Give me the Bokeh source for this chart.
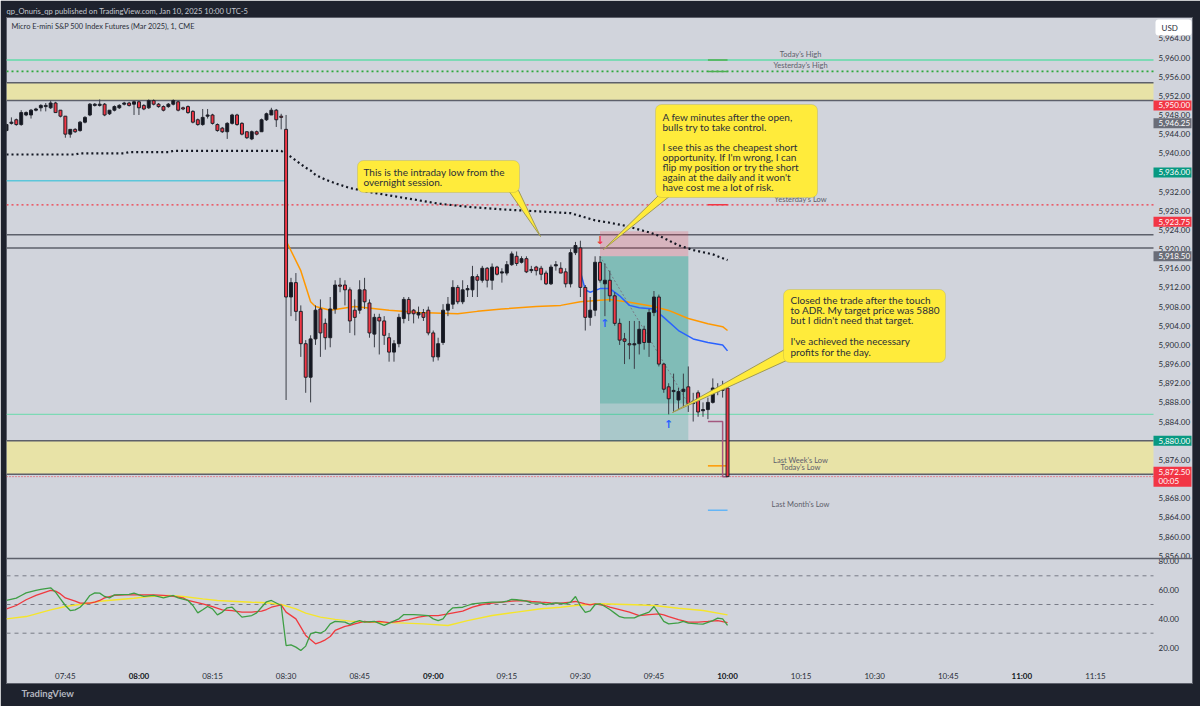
from bokeh.plotting import figure
from bokeh.models import Range1d, BoxAnnotation, Title, Span
from bokeh.core.properties import value
from bokeh.embed import file_html
from bokeh.resources import INLINE

# ------------------------------------------------------------------ data
# Micro E-mini S&P 500 (Mar 2025), 1-minute bars, Jan 10 2025, first bar 07:33
FIRST_BAR = "07:33"

opens = [5944.75, 5946.25, 5947.0, 5946.0, 5948.0, 5948.0, 5949.0, 5949.5, 5949.75, 5949.5,
         5950.5, 5949.0, 5947.75, 5944.0, 5945.0, 5944.75, 5946.5, 5948.0, 5950.0, 5950.0,
         5950.25, 5948.25, 5949.0, 5949.5, 5950.25, 5950.5, 5950.25, 5950.75, 5950.0, 5949.5,
         5951.0, 5950.25, 5949.75, 5949.75, 5950.25, 5950.75, 5949.5, 5949.75, 5948.75, 5947.0,
         5946.0, 5947.75, 5948.0, 5946.0, 5945.25, 5944.5, 5946.25, 5948.0, 5946.25, 5944.5,
         5943.0, 5944.5, 5944.5, 5947.0, 5948.0, 5949.0, 5947.75, 5945.0, 5910.0, 5913.0,
         5907.0, 5900.25, 5893.25, 5901.25, 5907.5, 5904.5, 5901.5, 5907.5, 5912.5, 5912.5,
         5911.5, 5907.25, 5907.25, 5911.5, 5908.75, 5902.25, 5905.75, 5905.0, 5901.5, 5898.5,
         5900.25, 5905.5, 5909.5, 5907.25, 5906.25, 5906.75, 5907.25, 5902.5, 5897.5, 5900.5,
         5907.25, 5908.5, 5912.0, 5909.0, 5911.5, 5911.5, 5914.25, 5913.5, 5916.0, 5913.5,
         5916.25, 5915.0, 5915.0, 5916.75, 5918.5, 5917.25, 5918.0, 5915.5, 5916.25, 5916.0,
         5915.0, 5912.75, 5916.5, 5916.0, 5915.25, 5912.75, 5919.25, 5920.25, 5912.0, 5905.75,
         5907.25, 5917.25, 5912.75, 5913.5, 5910.25, 5904.5, 5901.25, 5900.25, 5900.0, 5900.25,
         5903.25, 5900.5, 5906.75, 5910.0, 5896.0, 5891.25, 5890.25, 5888.5, 5890.25, 5891.25,
         5887.75, 5890.0, 5886.25, 5886.5, 5888.0, 5891.0, 5890.5, 5891.0]
highs = [5946.25, 5947.5, 5947.25, 5949.0, 5948.75, 5949.25, 5949.5, 5950.25, 5950.5, 5951.0,
         5950.75, 5949.0, 5947.75, 5945.0, 5945.25, 5946.75, 5947.75, 5950.5, 5950.5, 5951.25,
         5950.5, 5949.0, 5950.0, 5950.25, 5950.75, 5950.75, 5951.0, 5951.0, 5950.25, 5951.25,
         5951.25, 5950.5, 5950.0, 5950.5, 5951.25, 5951.0, 5949.75, 5950.0, 5949.0, 5947.25,
         5949.25, 5949.25, 5948.25, 5946.25, 5945.5, 5946.5, 5948.25, 5948.25, 5946.5, 5944.5,
         5944.75, 5944.75, 5947.25, 5948.5, 5949.5, 5949.25, 5948.25, 5948.0, 5914.0, 5915.0,
         5908.25, 5901.0, 5902.0, 5908.25, 5909.5, 5905.5, 5910.0, 5913.5, 5914.0, 5913.5,
         5912.0, 5909.5, 5913.5, 5914.0, 5909.5, 5906.5, 5906.5, 5906.0, 5902.5, 5901.0,
         5906.5, 5910.0, 5910.0, 5907.5, 5908.0, 5907.5, 5908.0, 5903.0, 5901.5, 5908.5,
         5910.0, 5913.5, 5912.5, 5913.5, 5912.5, 5916.5, 5914.75, 5916.5, 5916.25, 5917.0,
         5916.5, 5916.0, 5917.5, 5919.5, 5919.5, 5918.5, 5918.5, 5916.5, 5916.5, 5916.5,
         5915.5, 5916.75, 5917.5, 5917.25, 5916.0, 5920.0, 5921.5, 5921.75, 5912.5, 5910.0,
         5918.5, 5918.5, 5917.0, 5915.5, 5911.0, 5905.5, 5902.5, 5905.0, 5905.0, 5905.0,
         5904.0, 5907.5, 5911.25, 5910.5, 5896.25, 5892.0, 5894.0, 5891.0, 5894.0, 5895.5,
         5890.0, 5890.5, 5888.0, 5889.0, 5893.0, 5892.0, 5892.5, 5891.25]
lows = [5944.5, 5946.0, 5945.75, 5945.75, 5947.75, 5947.25, 5948.75, 5948.75, 5948.75, 5949.25,
        5948.5, 5947.5, 5943.25, 5943.25, 5944.25, 5944.5, 5946.25, 5947.75, 5949.75, 5949.75,
        5947.75, 5948.0, 5948.75, 5949.25, 5950.0, 5949.75, 5948.0, 5948.0, 5949.0, 5949.25,
        5950.0, 5949.5, 5948.75, 5949.5, 5950.0, 5948.75, 5949.0, 5948.25, 5946.25, 5945.75,
        5945.75, 5947.25, 5946.0, 5944.5, 5944.25, 5943.0, 5946.0, 5945.75, 5943.75, 5943.0,
        5942.75, 5943.75, 5944.5, 5946.75, 5948.0, 5945.5, 5945.0, 5888.5, 5906.0, 5905.0,
        5897.5, 5890.0, 5888.0, 5900.0, 5897.5, 5899.0, 5899.5, 5906.5, 5911.0, 5908.25,
        5902.5, 5902.0, 5906.5, 5907.5, 5901.5, 5899.5, 5898.0, 5900.0, 5896.5, 5896.5,
        5899.5, 5904.5, 5905.0, 5904.5, 5905.5, 5905.0, 5902.0, 5896.5, 5896.75, 5900.0,
        5906.0, 5907.5, 5908.5, 5908.5, 5910.0, 5910.0, 5910.0, 5913.0, 5912.0, 5911.5,
        5914.5, 5913.0, 5914.5, 5916.5, 5916.5, 5917.0, 5915.0, 5915.0, 5914.5, 5913.5,
        5912.5, 5912.5, 5915.5, 5915.0, 5912.0, 5912.0, 5918.75, 5910.0, 5903.0, 5904.0,
        5906.0, 5913.0, 5906.0, 5909.0, 5904.0, 5900.0, 5896.0, 5897.0, 5895.0, 5898.0,
        5899.0, 5897.5, 5906.0, 5895.5, 5890.0, 5885.5, 5886.0, 5886.5, 5887.0, 5886.0,
        5884.0, 5885.0, 5885.0, 5884.5, 5887.75, 5889.5, 5889.0, 5872.5]
closes = [5946.0, 5946.5, 5946.0, 5948.5, 5948.5, 5949.0, 5949.25, 5950.0, 5950.0, 5950.5,
          5948.5, 5947.75, 5944.0, 5945.0, 5944.5, 5946.5, 5947.5, 5950.25, 5950.25, 5950.25,
          5948.0, 5949.0, 5949.75, 5950.0, 5950.5, 5950.0, 5950.75, 5949.5, 5949.25, 5951.0,
          5950.25, 5949.75, 5949.0, 5950.25, 5951.0, 5949.0, 5949.25, 5948.5, 5946.5, 5946.0,
          5947.5, 5948.0, 5946.25, 5944.75, 5944.5, 5946.25, 5948.0, 5946.0, 5944.0, 5943.25,
          5944.5, 5944.0, 5947.0, 5948.25, 5949.0, 5947.0, 5947.5, 5910.0, 5913.0, 5907.0,
          5900.25, 5893.25, 5901.25, 5907.25, 5902.5, 5901.5, 5907.5, 5912.5, 5912.25, 5911.5,
          5905.0, 5905.75, 5911.5, 5909.0, 5902.5, 5905.75, 5905.0, 5902.0, 5898.5, 5900.25,
          5905.75, 5909.5, 5906.5, 5906.5, 5906.75, 5905.75, 5902.5, 5897.5, 5900.25, 5907.25,
          5908.5, 5912.0, 5909.0, 5911.5, 5911.75, 5914.25, 5913.5, 5916.0, 5913.5, 5916.25,
          5914.75, 5915.25, 5916.75, 5919.0, 5917.0, 5918.0, 5915.25, 5915.75, 5915.5, 5914.75,
          5912.75, 5916.25, 5916.75, 5915.0, 5912.75, 5919.25, 5920.75, 5912.0, 5905.75, 5907.25,
          5917.25, 5913.5, 5913.5, 5910.25, 5904.5, 5901.0, 5900.75, 5900.0, 5900.25, 5903.25,
          5900.5, 5906.75, 5910.0, 5896.0, 5890.75, 5888.75, 5890.5, 5890.25, 5890.75, 5887.75,
          5888.25, 5886.0, 5886.5, 5888.0, 5891.0, 5890.25, 5890.75, 5872.5]

# dotted line (prior-session VWAP)  -- bar index / value
dots_bar = [0, 14, 15, 24, 25, 33, 34, 56, 58, 59, 61, 62, 63, 65, 67, 70, 74, 81, 88, 95, 101,
            108, 115, 120, 123, 126, 131, 133, 137, 140, 144, 147]
dots_val = [5939.75, 5939.75, 5940.0, 5940.0, 5940.25, 5940.25, 5940.5, 5940.5, 5939.25, 5938.5,
            5937.0, 5936.4, 5935.5, 5934.5, 5933.75, 5932.75, 5931.9, 5930.7, 5929.5, 5928.75,
            5928.3, 5927.9, 5927.5, 5926.0, 5925.5, 5924.9, 5923.5, 5922.8, 5920.8, 5919.8,
            5918.9, 5917.7]
# orange session VWAP
vwap_bar = [57, 60, 62, 63, 66, 71, 78, 84, 92, 96, 101, 108, 113, 117, 123, 127, 132, 135, 139,
            143, 146, 147]
vwap_val = [5921.75, 5915.5, 5909.0, 5908.0, 5907.25, 5908.0, 5907.25, 5906.75, 5906.5, 5907.0,
            5907.5, 5908.0, 5908.25, 5909.0, 5909.5, 5908.9, 5908.0, 5907.2, 5905.5, 5904.4,
            5903.8, 5903.0]
# blue line (VWAP from 09:30)
blue_bar = [117, 118, 119, 121, 123, 125, 127, 129, 132, 134, 137, 140, 143, 146, 147]
blue_val = [5915.25, 5911.5, 5911.0, 5911.75, 5911.75, 5910.25, 5908.25, 5907.75, 5907.5,
            5905.75, 5903.0, 5901.25, 5900.5, 5900.0, 5898.75]

# RSI pane
rsi_bar = [0, 2, 3, 4, 6, 7, 9, 10, 11, 12, 13, 14, 15, 16, 17, 18, 19, 20, 21, 22, 25, 26, 27,
           28, 30, 32, 34, 35, 37, 38, 39, 40, 41, 42, 43, 44, 45, 46, 47, 48, 50, 51, 52, 53, 54,
           56, 57, 58, 59, 60, 61, 62, 63, 64, 65, 66, 67, 69, 70, 71, 72, 73, 75, 77, 78, 80, 81,
           83, 84, 86, 87, 88, 89, 90, 91, 93, 94, 95, 97, 99, 101, 102, 103, 104, 106, 107, 109,
           110, 112, 114, 115, 116, 117, 118, 119, 120, 121, 122, 123, 124, 125, 126, 128, 129,
           131, 132, 133, 134, 135, 137, 138, 139, 141, 142, 144, 145, 146, 147]
rsi_val = [52.8, 54.4, 56.3, 58.1, 59.8, 60.5, 61.6, 58.6, 53.9, 49.3, 45.8, 46.3, 48.1, 51.6,
           56.3, 58.1, 57.9, 55.6, 54.6, 56.7, 57.0, 57.9, 56.7, 55.6, 56.3, 54.6, 56.3, 54.6,
           52.8, 49.3, 44.2, 46.3, 48.6, 47.0, 42.8, 44.7, 47.7, 48.1, 44.7, 41.2, 42.3, 44.2,
           48.1, 51.9, 52.8, 49.3, 21.4, 21.9, 20.3, 17.9, 21.0, 29.6, 30.7, 30.0, 31.9, 36.5,
           38.2, 37.7, 36.1, 37.7, 38.8, 37.7, 38.2, 35.4, 37.0, 40.0, 43.0, 43.0, 42.8, 42.3,
           40.0, 38.8, 40.0, 44.7, 47.7, 48.1, 49.3, 50.5, 51.2, 51.6, 51.6, 52.3, 53.5, 53.3,
           52.3, 51.2, 50.9, 50.0, 51.2, 50.5, 51.6, 55.6, 49.0, 44.5, 45.5, 50.0, 50.5, 48.6,
           46.5, 44.0, 41.5, 40.7, 40.7, 42.3, 44.7, 48.6, 43.5, 38.2, 36.5, 37.2, 38.2, 37.0,
           36.5, 36.3, 38.8, 40.5, 40.0, 35.4]
rsi_ma_bar = [0, 2, 4, 6, 9, 10, 11, 12, 14, 15, 17, 18, 19, 20, 22, 24, 30, 32, 34, 36, 37, 40,
              42, 44, 46, 48, 50, 52, 53, 54, 56, 57, 59, 60, 61, 63, 64, 65, 66, 67, 69, 70, 71,
              73, 74, 76, 78, 80, 82, 84, 86, 88, 90, 93, 95, 97, 99, 101, 103, 105, 107, 109,
              111, 113, 115, 116, 118, 119, 120, 122, 123, 125, 127, 129, 131, 133, 134, 135,
              137, 139, 141, 143, 145, 147]
rsi_ma_val = [47.0, 49.3, 53.3, 56.3, 59.8, 59.3, 57.4, 54.6, 52.3, 50.9, 50.9, 51.6, 52.8, 54.6,
              56.3, 56.7, 56.7, 56.3, 55.6, 54.6, 52.8, 50.5, 48.6, 46.3, 45.8, 44.7, 44.7, 45.4,
              46.5, 48.1, 49.8, 44.7, 40.0, 34.2, 28.4, 22.6, 23.8, 25.4, 27.7, 31.9, 34.7, 35.4,
              36.5, 38.2, 37.7, 38.2, 37.4, 38.2, 39.4, 41.2, 42.3, 42.3, 43.5, 45.4, 48.1, 50.0,
              50.9, 51.6, 52.3, 52.8, 52.1, 51.6, 51.2, 50.9, 51.6, 52.1, 50.5, 49.8, 50.5, 49.3,
              48.1, 46.5, 44.7, 42.3, 43.0, 43.5, 42.8, 41.6, 39.4, 37.7, 37.7, 38.2, 38.8, 37.4]
rsi_slow_bar = [0, 4, 9, 12, 16, 19, 23, 26, 29, 33, 36, 40, 43, 46, 50, 53, 56, 59, 61, 64, 67,
                70, 74, 77, 80, 85, 90, 94, 99, 104, 109, 113, 116, 121, 128, 132, 137, 142, 147]
rsi_slow_val = [40.0, 41.6, 46.3, 48.6, 50.5, 52.3, 53.5, 54.4, 55.6, 56.3, 55.6, 53.9, 52.8,
                52.3, 51.6, 51.2, 50.0, 47.0, 44.0, 41.2, 39.6, 38.4, 37.7, 37.4, 37.2, 36.5,
                35.4, 38.8, 42.3, 44.7, 47.0, 48.1, 49.3, 50.5, 49.8, 49.3, 47.4, 45.8, 42.8]

# horizontal levels
today_high = 5959.5
yest_high = 5957.1
yest_low = 5929.25
last_week_low = 5874.75
last_month_low = 5865.5
today_low = 5872.5
zone_top = [5954.75, 5880.0]
zone_bot = [5951.0, 5873.0]
overnight_lines = [5923.0, 5920.25]
cyan_level = 5934.25
mint_level = 5885.5
today_low_step_bar = [143, 146, 146, 147]
today_low_step_val = [5884.0, 5884.0, 5872.5, 5872.5]

# short position
entry, stop, target, exit_price = 5918.5, 5923.75, 5880.0, 5887.75
pos_start_bar, pos_end_bar = 121, 139

# axis tick labels
price_ticks = [5856, 5860, 5864, 5868, 5872, 5876, 5880, 5884, 5888, 5892, 5896, 5900, 5904,
               5908, 5912, 5916, 5920, 5924, 5928, 5932, 5936, 5940, 5944, 5948, 5952, 5956,
               5960, 5964]
rsi_ticks = [20, 40, 60, 80]
rsi_levels = [30, 50, 70]
time_labels = ["07:45", "08:00", "08:15", "08:30", "08:45", "09:00", "09:15", "09:30", "09:45",
               "10:00", "10:15", "10:30", "10:45", "11:00", "11:15"]
tag_prices = [5950.00, 5946.25, 5936.00, 5923.75, 5918.50, 5880.00]
tag_colors = ["#f23645", "#6a6d78", "#089981", "#f23645", "#6a6d78", "#089981"]
last_price, countdown = 5872.50, "00:05"

# ------------------------------------------------------------------ geometry
FL, FR, FT, FB = 6, 1192, 17, 683          # plot frame (px)
PX_PER_BAR = 4.905
PX_PER_PT, REF_PRICE, REF_PX = 4.79, 5960.0, 57.0
PX_PER_RSI, RSI50_PX = 1.435, 604.0
SCALE_X = 1153                              # left edge of the price scale column


def bx(px):
    return (px - FL) / PX_PER_BAR


def yp(px):
    return REF_PRICE - (px - REF_PX) / PX_PER_PT


def yr(px):
    return 50.0 - (px - RSI50_PX) / PX_PER_RSI


def bar_of(hhmm):
    h, m = hhmm.split(":")
    h0, m0 = FIRST_BAR.split(":")
    return (int(h) * 60 + int(m)) - (int(h0) * 60 + int(m0))


BG = "#d1d4dc"
DARK = "#1e222d"
FONT = value("Lato")
YEL = "#ffeb3b"
YEL_EDGE = "#a09a55"
ZONE = "#e8e3a7"

p = figure(width=1200, height=706, x_range=Range1d(bx(FL), bx(FR)),
           y_range=Range1d(yp(FB), yp(FT)), output_backend="svg", toolbar_location=None,
           x_axis_location=None, y_axis_location=None,
           min_border_left=FL, min_border_right=1200 - FR, min_border_top=FT,
           min_border_bottom=706 - FB, background_fill_color=BG, border_fill_color=DARK,
           outline_line_color="#5d606b", outline_line_width=1)
p.extra_y_ranges = {"rsi": Range1d(yr(FB), yr(FT))}
p.grid.grid_line_color = None

p.title.text = "qp_Onuris_qp published on TradingView.com, Jan 10, 2025 10:00 UTC-5"
p.title.text_font = "Lato"
p.title.text_font_size = "7.6px"
p.title.text_font_style = "normal"
p.title.text_color = "#c5c8d0"
p.title.align = "left"
p.title.standoff = 3
p.title.offset = 0
p.add_layout(Title(text="TradingView", text_font="Lato", text_font_size="9.5px",
                   text_font_style="bold", text_color="#b2b5be", align="left",
                   offset=15, standoff=5), "below")

x_end = bx(SCALE_X)
x_beg = bx(FL)

# ----- zones and levels
p.quad(left=[x_beg] * 2, right=[x_end] * 2, top=zone_top, bottom=zone_bot,
       fill_color=ZONE, line_color=None)
edges = zone_top + zone_bot + overnight_lines
p.segment(x0=[x_beg] * len(edges), x1=[x_end] * len(edges), y0=edges, y1=edges,
          line_color="#5d606b", line_width=1.5)
p.segment(x0=[x_beg], x1=[x_end], y0=[today_high], y1=[today_high], line_color="#7dd9b5",
          line_width=2)
p.segment(x0=[x_beg], x1=[x_end], y0=[yest_high], y1=[yest_high], line_color="#2fa83c",
          line_width=1.6, line_dash="2 3")
p.segment(x0=[x_beg], x1=[x_end], y0=[yest_low], y1=[yest_low], line_color="#f23645",
          line_width=1.2, line_dash="2 3")
p.segment(x0=[x_beg], x1=[x_end], y0=[mint_level], y1=[mint_level], line_color="#7dd9b5",
          line_width=1.2)
p.segment(x0=[x_beg], x1=[bar_of("08:30")], y0=[cyan_level], y1=[cyan_level],
          line_color="#5cc6da", line_width=1.5)
p.segment(x0=[x_beg], x1=[x_end], y0=[last_price], y1=[last_price], line_color="#f23645",
          line_width=1, line_dash="1 2")

# level markers (09:56 - 10:00) and their names
mk_levels = [today_high, yest_high, yest_low, last_week_low, last_month_low]
mk_colors = ["#4caf50", "#4caf50", "#f23645", "#ff9800", "#64b5f6"]
p.segment(x0=[bar_of("09:56")] * 5, x1=[bar_of("10:00")] * 5, y0=mk_levels, y1=mk_levels,
          line_color=mk_colors, line_width=1.5)
p.line(today_low_step_bar, today_low_step_val, line_color="#a4587f", line_width=1.5)
lab_names = ["Today's High", "Yesterday's High", "Yesterday's Low", "Last Week's Low",
             "Today's Low", "Last Month's Low"]
lab_levels = [today_high, yest_high, yest_low, last_week_low, today_low, last_month_low]
p.text(x=[bx(800)] * 6, y=lab_levels, text=lab_names, text_align="center",
       text_baseline="bottom", y_offset=[-1, -1, -1, -1, -5, -1], text_font=FONT,
       text_font_size="7.5px", text_color="#5d606b")

# ----- position tool
p.quad(left=[pos_start_bar], right=[pos_end_bar], top=[stop], bottom=[entry],
       fill_color="#f23645", fill_alpha=0.2, line_color=None)
p.quad(left=[pos_start_bar], right=[pos_end_bar], top=[entry], bottom=[target],
       fill_color="#089981", fill_alpha=0.2, line_color=None)
p.quad(left=[pos_start_bar], right=[pos_end_bar], top=[entry], bottom=[exit_price],
       fill_color="#089981", fill_alpha=0.25, line_color=None)
p.line([pos_start_bar, pos_end_bar], [entry, exit_price], line_color="#787b86",
       line_width=1, line_dash="2 2")

# ----- indicator lines
p.line(dots_bar, dots_val, line_color="#131722", line_width=2.2, line_dash="2 3")
p.line(vwap_bar, vwap_val, line_color="#ff9800", line_width=1.5)
p.line(blue_bar, blue_val, line_color="#2962ff", line_width=1.5)

# ----- candles
n = len(opens)
bars = list(range(n))
p.segment(x0=bars, x1=bars, y0=lows, y1=highs, line_color="#3b3e47", line_width=1)
tops = [max(o, c) + (0.12 if o == c else 0) for o, c in zip(opens, closes)]
bots = [min(o, c) - (0.12 if o == c else 0) for o, c in zip(opens, closes)]
colors = ["#131722" if c >= o else "#f23645" for o, c in zip(opens, closes)]
p.vbar(x=bars, width=0.6, top=tops, bottom=bots, fill_color=colors, line_color="#1f2129",
       line_width=1)

# ----- signal arrows
p.text(x=[pos_start_bar], y=[stop], text=["\u2193"], text_align="center",
       text_baseline="middle", y_offset=[9], text_font=value("DejaVu Sans"),
       text_font_size="11px", text_color="#f23645", text_font_style="bold")
p.text(x=[pos_start_bar + 1, bar_of("09:48")], y=[lows[pos_start_bar + 1], lows[bar_of("09:48")]],
       text=["\u2191", "\u2191"], text_align="center", text_baseline="middle",
       y_offset=[7, 10], text_font=value("DejaVu Sans"), text_font_size="11px",
       text_color="#2962ff", text_font_style="bold")

# ----- RSI pane
p.segment(x0=[x_beg] * 3, x1=[x_end] * 3, y0=rsi_levels, y1=rsi_levels,
          line_color="#787b86", line_width=1, line_dash="4 4", y_range_name="rsi")
p.line(rsi_slow_bar, rsi_slow_val, line_color="#f5e52a", line_width=1.4, y_range_name="rsi")
p.line(rsi_ma_bar, rsi_ma_val, line_color="#f0393e", line_width=1.3, y_range_name="rsi")
p.line(rsi_bar, rsi_val, line_color="#3e9e44", line_width=1.3, y_range_name="rsi")
p.add_layout(Span(location=yp(558), dimension="width", line_color="#5d606b", line_width=1.5))

# ----- callouts
def callout(lines, box, text_x, first_y, step, tail):
    xs = [bx(a) for a, b in tail]
    ys = [yp(b) for a, b in tail]
    p.patch(xs, ys, fill_color=YEL, line_color=YEL_EDGE, line_width=1)
    l, t, r, b = box
    p.add_layout(BoxAnnotation(left=bx(l), right=bx(r), top=yp(t), bottom=yp(b),
                               fill_color=YEL, fill_alpha=1, line_color=YEL_EDGE,
                               line_width=1, border_radius=6))
    p.text(x=[bx(text_x)] * len(lines), y=[yp(first_y + i * step) for i in range(len(lines))],
           text=lines, text_align="left", text_baseline="middle", text_font=FONT,
           text_font_size="10px", text_color="#2a2e39", level="overlay")


callout(["This is the intraday low from the", "overnight session."],
        (357, 160, 519, 192), 363, 171, 10.2, [(508, 190), (518, 190), (540, 236)])
callout(["A few minutes after the open,", "bulls try to take control.", "",
         "I see this as the cheapest short", "opportunity. If I'm wrong, I can",
         "flip my position or try the short", "again at the daily and it won't",
         "have cost me a lot of risk."],
        (655, 104, 817, 197), 662, 116, 10.0, [(658, 195), (670, 195), (603, 249)])
callout(["Closed the trade after the touch", "to ADR. My target price was 5880",
         "but I didn't need that target.", "", "I've achieved the necessary",
         "profits for the day."],
        (783, 289, 945, 362), 790, 299, 10.4, [(786, 348), (786, 360), (672, 412)])

# ----- chart label
p.text(x=[bx(11)], y=[yp(26)], text=["Micro E-mini S&P 500 Index Futures (Mar 2025), 1, CME"],
       text_align="left", text_baseline="middle", text_font=FONT, text_font_size="7.4px",
       text_color="#2a2e39")

# ----- price scale
lab_x = bx(1158)
p.text(x=[lab_x] * len(price_ticks), y=price_ticks, text=[f"{v:,.2f}" for v in price_ticks],
       text_align="left", text_baseline="middle", text_font=FONT, text_font_size="8px",
       text_color="#2a2e39")
p.text(x=[lab_x] * len(rsi_ticks), y=rsi_ticks, text=[f"{v:.2f}" for v in rsi_ticks],
       text_align="left", text_baseline="middle", text_font=FONT, text_font_size="8px",
       text_color="#2a2e39", y_range_name="rsi")
tag_shift_px = [0, 0, 0, -9.5, 0, 0]
tag_y = [v - s / PX_PER_PT for v, s in zip(tag_prices, tag_shift_px)]
p.rect(x=[bx(1172)] * len(tag_prices), y=tag_y, width=38, height=10, width_units="screen",
       height_units="screen", fill_color=tag_colors, line_color=None)
p.text(x=[lab_x] * len(tag_prices), y=tag_y, text=[f"{v:,.2f}" for v in tag_prices],
       text_align="left", text_baseline="middle", text_font=FONT, text_font_size="8px",
       text_color="white")
p.rect(x=[bx(1172)], y=[last_price], width=38, height=20, width_units="screen",
       height_units="screen", fill_color="#f23645", line_color=None)
p.text(x=[lab_x, lab_x], y=[last_price, last_price], text=[f"{last_price:,.2f}", countdown],
       y_offset=[-4.5, 4.5], text_align="left", text_baseline="middle", text_font=FONT,
       text_font_size="8px", text_color="white")
p.add_layout(BoxAnnotation(left=bx(1155), right=bx(1191), top=yp(19), bottom=yp(35),
                           fill_color="white", fill_alpha=1, line_color=None, border_radius=3))
p.text(x=[bx(1161)], y=[yp(27)], text=["USD"], text_align="left", text_baseline="middle",
       text_font=FONT, text_font_size="8px", text_color="#2a2e39", level="overlay")

# ----- time scale
tb = [bar_of(t) for t in time_labels]
reg = [i for i, t in enumerate(time_labels) if not t.endswith(":00")]
hrs = [i for i, t in enumerate(time_labels) if t.endswith(":00")]
p.text(x=[tb[i] for i in reg], y=[yr(675)] * len(reg), text=[time_labels[i] for i in reg],
       text_align="center", text_baseline="middle", text_font=FONT, text_font_size="8px",
       text_color="#2a2e39", y_range_name="rsi")
p.text(x=[tb[i] for i in hrs], y=[yr(675)] * len(hrs), text=[time_labels[i] for i in hrs],
       text_align="center", text_baseline="middle", text_font=FONT, text_font_size="8px",
       text_font_style="bold", text_color="#131722", y_range_name="rsi")

open("out.html", "w").write(file_html(p, INLINE))
